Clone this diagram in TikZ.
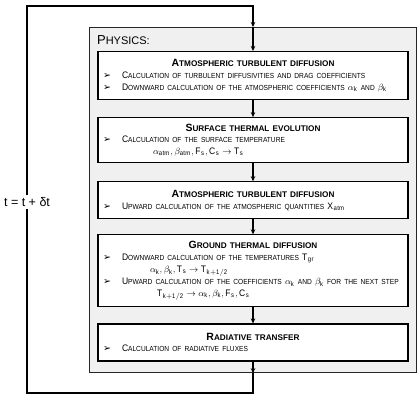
\documentclass[tikz,border=0pt]{standalone}
\usepackage{fontspec}
\setmainfont{Liberation Sans}[FakeStretch=0.9]
\newfontfamily\plainfont{Liberation Sans}
\newfontfamily\bulletfont{DejaVu Sans}
\usetikzlibrary{positioning,arrows.meta}
\newcommand\smc[3][7.35]{#2{\fontsize{#1}{9}\selectfont\MakeUppercase{#3}}}
\newcommand\ttl[2]{\hspace*{\fill}{\plainfont\bfseries\fontsize{10.5}{12}\selectfont#1\smc[8.2]{}{#2}}\hspace*{\fill}\mbox{}}
\newcommand\itm{\makebox[19pt][l]{\bulletfont\fontsize{9.5}{9.5}\selectfont ➢}}
\begin{document}
\begin{tikzpicture}[x=1pt,y=-1pt,
    flow/.style={line width=1.1pt,-{Stealth[length=5pt,width=4.5pt]}},
    physbox/.style={draw=black!85,line width=1.2pt,fill=black!6,minimum width=327pt,minimum height=345pt,inner sep=0pt},
    stepbox/.style={draw,line width=1.1pt,fill=white,text width=300pt,inner xsep=5pt,inner ysep=0pt,align=left,
        font=\fontsize{9.45}{11.8}\selectfont}]
    \useasboundingbox (0,0) rectangle (419,401);
    \node[physbox,anchor=north] (phys) at (253,27) {};
    \node[anchor=west,inner sep=0pt,font=\plainfont\fontsize{13}{13}\selectfont] (physlbl) at ([xshift=8pt,yshift=-13pt]phys.north west) {\smc[11]{P}{hysics:}};
    \node[stepbox,minimum height=48pt,anchor=north] (atm1) at (253,51) {
        \ttl{A}{tmospheric turbulent diffusion}\\
        \itm\smc{C}{alculation of turbulent diffusivities and drag coefficients}\\
        \itm\smc{D}{ownward calculation of the atmospheric coefficients} $\alpha_{\mathrm{k}}$ \smc{}{and} $\beta_{\mathrm{k}}$};
    \node[stepbox,minimum height=45pt,below=17pt of atm1] (surf) {
        \ttl{S}{urface thermal evolution}\\
        \itm\smc{C}{alculation of the surface temperature}\\
        \hspace*{50pt}$\alpha_{\mathrm{atm}}, \beta_{\mathrm{atm}}, \mathrm{F_s}, \mathrm{C_s} \rightarrow \mathrm{T_s}$};
    \node[stepbox,minimum height=37pt,below=18pt of surf] (atm2) {
        \ttl{A}{tmospheric turbulent diffusion}\\
        \itm\smc{U}{pward calculation of the atmospheric quantities} $\mathrm{X_{atm}}$};
    \node[stepbox,minimum height=72pt,below=15pt of atm2] (ground) {
        \ttl{G}{round thermal diffusion}\\
        \itm\smc{D}{ownward calculation of the temperatures} $\mathrm{T_{gr}}$\\
        \hspace*{47pt}$\alpha_{\mathrm{k}}, \beta_{\mathrm{k}}, \mathrm{T_s} \rightarrow \mathrm{T_{k+1/2}}$\\
        \itm\smc{U}{pward calculation of the coefficients} $\alpha_{\mathrm{k}}$ \smc{}{and} $\beta_{\mathrm{k}}$ \smc{}{for the next step}\\
        \hspace*{54pt}$\mathrm{T_{k+1/2}} \rightarrow \alpha_{\mathrm{k}}, \beta_{\mathrm{k}}, \mathrm{F_s}, \mathrm{C_s}$};
    \node[stepbox,minimum height=37pt,below=16pt of ground] (rad) {
        \ttl{R}{adiative transfer}\\
        \itm\smc{C}{alculation of radiative fluxes}};
    \coordinate (loopbl) at (27,393);
    \coordinate (looptr) at (253,6);
    \draw[flow] (phys.north) -- (atm1.north);
    \draw[flow] (atm1.south) -- (surf.north);
    \draw[flow] (surf.south) -- (atm2.north);
    \draw[flow] (atm2.south) -- (ground.north);
    \draw[flow] (ground.south) -- (rad.north);
    \draw[flow] (rad.south) -- (phys.south);
    \draw[flow] (phys.south) |- (loopbl) |- (looptr) -- (phys.north);
    \node[fill=white,inner sep=2pt,font=\plainfont\fontsize{12.5}{12.5}\selectfont] (tstep) at (27,202) {t = t + δt};
\end{tikzpicture}
\end{document}
